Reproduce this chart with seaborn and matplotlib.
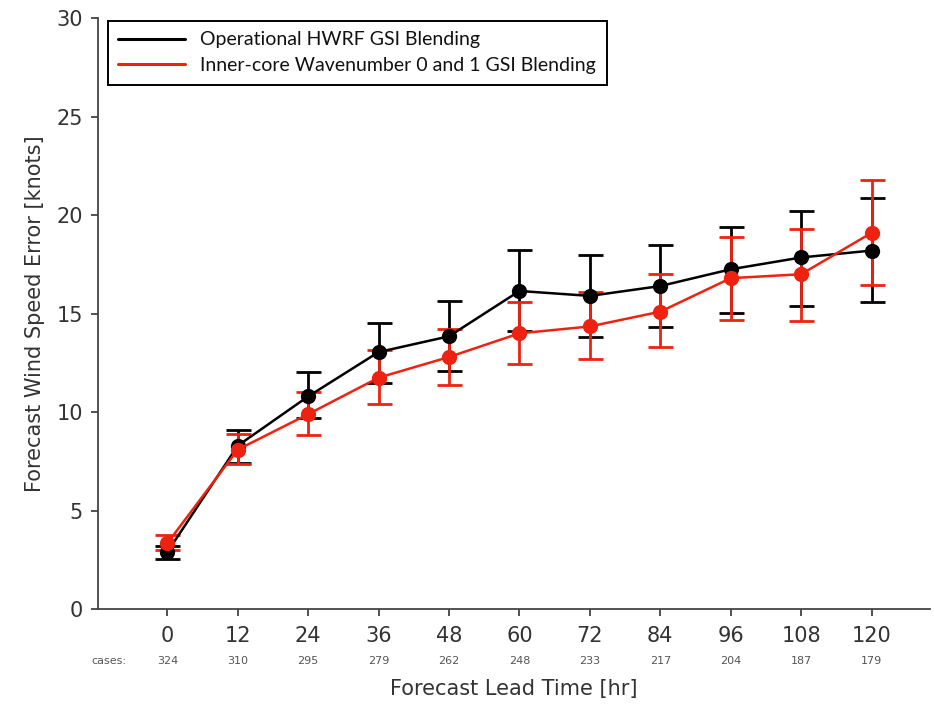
import numpy as np
import pandas as pd
import seaborn as sns
import matplotlib.pyplot as plt
from matplotlib.transforms import blended_transform_factory

lead_hours = [0, 12, 24, 36, 48, 60, 72, 84, 96, 108, 120]
cases = [324, 310, 295, 279, 262, 248, 233, 217, 204, 187, 179]

# Operational HWRF GSI Blending
oper_mean = [2.9, 8.3, 10.8, 13.05, 13.85, 16.15, 15.9, 16.4, 17.25, 17.85, 18.2]
oper_low = [2.55, 7.4, 9.7, 11.5, 12.1, 14.1, 13.8, 14.3, 15.05, 15.4, 15.6]
oper_high = [3.2, 9.1, 12.05, 14.5, 15.65, 18.25, 18.0, 18.5, 19.4, 20.2, 20.85]

# Inner-core Wavenumber 0 and 1 GSI Blending
inner_mean = [3.35, 8.1, 9.9, 11.75, 12.8, 14.0, 14.35, 15.1, 16.8, 17.0, 19.1]
inner_low = [3.0, 7.35, 8.85, 10.4, 11.4, 12.45, 12.7, 13.3, 14.7, 14.65, 16.45]
inner_high = [3.75, 8.9, 11.0, 13.15, 14.2, 15.6, 16.1, 17.0, 18.9, 19.3, 21.8]

series_names = ["Operational HWRF GSI Blending", "Inner-core Wavenumber 0 and 1 GSI Blending"]
colors = ["black", "#ee2211"]

df = pd.concat([
    pd.DataFrame({"hour": lead_hours, "err": oper_mean, "lo": oper_low, "hi": oper_high, "exp": series_names[0]}),
    pd.DataFrame({"hour": lead_hours, "err": inner_mean, "lo": inner_low, "hi": inner_high, "exp": series_names[1]}),
])

sns.set_style("ticks")
plt.rcParams["font.family"] = ["DejaVu Sans"]

fig = plt.figure(figsize=(9.34, 7.06), dpi=100)
ax = fig.add_axes([0.105, 0.137, 0.891, 0.8375])

for name, col in zip(series_names, colors):
    d = df[df["exp"] == name]
    ax.errorbar(d["hour"], d["err"], yerr=[d["err"] - d["lo"], d["hi"] - d["err"]],
                fmt="none", ecolor=col, elinewidth=2, capsize=9, capthick=2, zorder=2)

sns.lineplot(data=df, x="hour", y="err", hue="exp", palette=colors, marker="o",
             markersize=11, markeredgewidth=0, linewidth=1.8, ax=ax, zorder=3)

ax.set_xlim(-11.8, 130)
ax.set_ylim(0, 30)
ax.set_xticks(lead_hours)
ax.set_yticks([0, 5, 10, 15, 20, 25, 30])
ax.tick_params(axis="both", labelsize=15, colors="#333333", length=5, width=1.2)
ax.tick_params(axis="x", pad=7)
ax.tick_params(axis="y", pad=6)
for s in ["top", "right"]:
    ax.spines[s].set_visible(False)
for s in ["left", "bottom"]:
    ax.spines[s].set_color("#444444")
    ax.spines[s].set_linewidth(1.3)

ax.set_xlabel("Forecast Lead Time [hr]", fontsize=15, color="#333333", labelpad=24)
ax.set_ylabel("Forecast Wind Speed Error [knots]", fontsize=15, color="#333333", labelpad=8)

trans = blended_transform_factory(ax.transData, ax.transAxes)
ax.text(-7, -0.088, "cases:", transform=trans, fontsize=8, color="#555555", ha="right", va="center")
for h, c in zip(lead_hours, cases):
    ax.text(h, -0.088, str(c), transform=trans, fontsize=8, color="#555555", ha="center", va="center")

handles, labels = ax.get_legend_handles_labels()
for hd in handles:
    hd.set_marker("")
    hd.set_linewidth(2.2)
leg = ax.legend(handles, labels, loc="upper left", bbox_to_anchor=(0.0, 1.012),
                prop={"family": "Lato", "size": 14}, frameon=True, fancybox=False,
                handlelength=3.4, borderpad=0.55, labelspacing=0.45, labelcolor="#111111")
leg.get_frame().set_edgecolor("black")
leg.get_frame().set_linewidth(1.4)
leg.get_frame().set_alpha(1)

fig.savefig("out.png", dpi=100)
